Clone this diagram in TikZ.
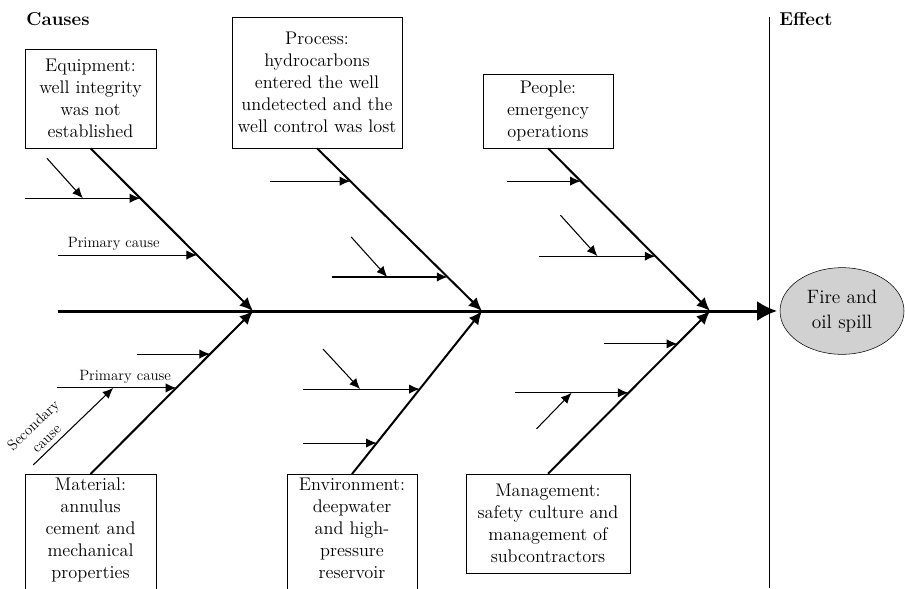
\documentclass[tikz,border=0pt]{standalone}
\usepackage{fontspec}
\usepackage{tikz}
\usetikzlibrary{positioning, arrows.meta, shapes, calc}

\begin{document}
\begin{tikzpicture}[
        x=0.75pt, y=-0.75pt,
        cause/.style={draw, align=center, inner sep=3pt, font=\fontsize{13.7}{16.5}\selectfont},
        bone/.style={line width=1.5pt, -{Latex[length=10pt, width=9pt]}},
        rib/.style={line width=0.8pt, -{Latex[length=8pt, width=7pt]}},
        small/.style={font=\fontsize{11.2}{13}\selectfont},
        heading/.style={font=\fontsize{14}{16}\selectfont\bfseries},
    ]
    \useasboundingbox (0,0) rectangle (905,588);

    % headings and effect side
    \node[heading] (causes) at (58,19) {Causes};
    \node[heading] (effect) at (806,19) {Effect};
    \coordinate (sep top) at (769,17);
    \coordinate (sep bot) at (769,588);
    \draw[line width=0.6pt] (sep top) -- (sep bot);
    \node[ellipse, draw, fill=black!18, minimum width=93pt, minimum height=65pt, inner sep=0pt,
        align=center, font=\fontsize{14.5}{18.75}\selectfont] (fire) at (842,311) {Fire and\\oil spill};

    % spine
    \coordinate (tail) at (58,311);
    \draw[line width=2.25pt, -{Latex[length=15pt, width=15pt]}, shorten >=2pt] (tail) -- (fire);
    \coordinate (j1) at (253,311);
    \coordinate (j2) at (482,311);
    \coordinate (j3) at (710,311);

    % categories
    \node[cause, minimum width=98.3pt, minimum height=74.3pt] (equip) at (90.5,98.5)
        {Equipment:\\well integrity\\was not\\established};
    \node[cause, minimum width=127.5pt, minimum height=98.3pt] (proc) at (317,82.5)
        {Process:\\hydrocarbons\\entered the well\\undetected and the\\well control was lost};
    \node[cause, minimum width=97.5pt, minimum height=55.5pt] (ppl) at (548,111)
        {People:\\emergency\\operations};
    \node[cause, minimum width=98.3pt, anchor=north, text depth=30pt] (mat) at (90.5,474)
        {Material:\\annulus\\cement and\\mechanical\\properties};
    \node[cause, minimum width=97.5pt, anchor=north, text depth=30pt] (env) at (352,474)
        {Environment:\\deepwater\\and high-\\pressure\\reservoir};
    \node[cause, minimum width=123pt, minimum height=74.3pt] (mgmt) at (548,523.5)
        {Management:\\safety culture and\\management of\\subcontractors};

    % bones
    \draw[bone] (equip.south) -- (j1);
    \draw[bone] (proc.south) -- (j2);
    \draw[bone] (ppl.south) -- (j3);
    \draw[bone] (mat.north) -- (j1);
    \draw[bone] (env.north) -- (j2);
    \draw[bone] (mgmt.north) -- (j3);

    % primary causes
    \foreach \base/\joint/\frc/\len/\id in {equip.south/j1/0.307/115/eq1, equip.south/j1/0.656/139/eq2,
            proc.south/j2/0.202/80/pr1, proc.south/j2/0.791/116/pr2,
            ppl.south/j3/0.202/74/pe1, ppl.south/j3/0.663/116/pe2,
            mat.north/j1/0.736/73/ma1, mat.north/j1/0.528/119/ma2,
            env.north/j2/0.521/117/en1, env.north/j2/0.190/74/en2,
            mgmt.north/j3/0.798/73/mg1, mgmt.north/j3/0.497/114/mg2}
        \draw[rib] ($(\base)!\frc!(\joint)+(-\len,0)$) coordinate (\id s) -- ($(\base)!\frc!(\joint)$) coordinate (\id);

    \node[small, above] (pc top) at ($(eq2s)!0.4!(eq2)$) {Primary cause};
    \node[small, above] (pc bot) at ($(ma2s)!0.57!(ma2)$) {Primary cause};

    % secondary causes
    \draw[rib] ($(eq1s)!0.5!(eq1)+(-36,-40)$) -- ($(eq1s)!0.5!(eq1)$);
    \draw[rib] ($(pr2s)!0.48!(pr2)+(-36,-40)$) -- ($(pr2s)!0.48!(pr2)$);
    \draw[rib] ($(pe2s)!0.5!(pe2)+(-37,-41)$) -- ($(pe2s)!0.5!(pe2)$);
    \draw[rib] ($(ma2s)!0.47!(ma2)+(-80,77)$)
        -- node[small, sloped, above, pos=0.25, align=center, font=\fontsize{11.2}{14}\selectfont] (sc) {Secondary\\cause} ($(ma2s)!0.47!(ma2)$);
    \draw[rib] ($(en1s)!0.49!(en1)+(-37,-40)$) -- ($(en1s)!0.49!(en1)$);
    \draw[rib] ($(mg2s)!0.5!(mg2)+(-35,36)$) -- ($(mg2s)!0.5!(mg2)$);
\end{tikzpicture}
\end{document}
